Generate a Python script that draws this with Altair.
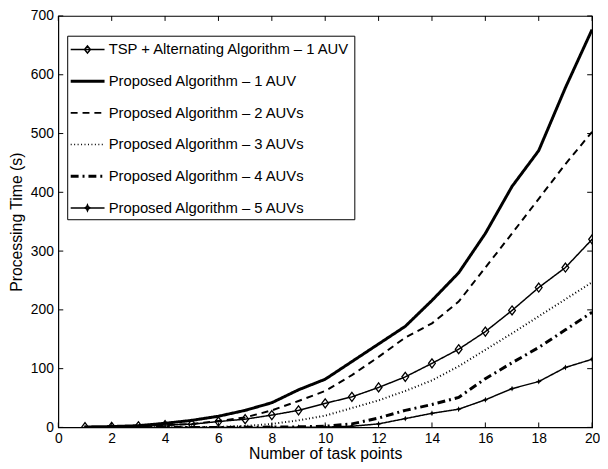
import altair as alt
import pandas as pd

# ---------------- data ----------------
x_points = list(range(1, 21))

series_names = [
    "TSP + Alternating Algorithm – 1 AUV",
    "Proposed Algorithm – 1 AUV",
    "Proposed Algorithm – 2 AUVs",
    "Proposed Algorithm – 3 AUVs",
    "Proposed Algorithm – 4 AUVs",
    "Proposed Algorithm – 5 AUVs",
]

tsp_1auv = [0.5, 1, 2, 4, 5.5, 10, 14, 21, 29, 41, 52, 68, 86, 109, 133, 163, 199, 238, 272, 320]
prop_1auv = [0.8, 1.5, 3, 7, 12, 19, 29, 42, 64, 82, 112, 142, 172, 216, 263, 330, 410, 471, 578, 677]
prop_2auv = [0.4, 0.8, 1.5, 4, 6, 11, 17, 29, 45, 62, 89, 120, 153, 177, 214, 272, 330, 389, 448, 503]
prop_3auv = [0, 0, 0, 0.3, 0.6, 1, 2.5, 6, 12, 20, 33, 46, 62, 80, 104, 132, 160, 189, 218, 247]
prop_4auv = [0, 0, 0, 0, 0, 0, 0.3, 0.6, 1, 2, 6, 16, 29, 39, 51, 83, 110, 136, 166, 196]
prop_5auv = [0, 0, 0, 0, 0, 0, 0, 0, 0.3, 0.6, 2, 6, 15, 24, 31, 47, 66, 78, 102, 116]

all_series = [tsp_1auv, prop_1auv, prop_2auv, prop_3auv, prop_4auv, prop_5auv]

x_ticks = list(range(0, 21, 2))
y_ticks = list(range(0, 701, 100))

# ---------------- styles ----------------
line_widths = [1.5, 3, 2, 2, 3, 1.5]
dashes = [[1, 0], [1, 0], [7, 5], [1, 2.5], [8, 4, 2, 4], [1, 0]]

X_MIN, X_MAX = 0, 20
Y_MIN, Y_MAX = 0, 700
W, H = 541, 417
FONT = "Liberation Sans"
TICK = 5  # px
tx = TICK / W * (X_MAX - X_MIN)   # tick length in x data units
ty = TICK / H * (Y_MAX - Y_MIN)   # tick length in y data units

rows = []
for name, vals, lw in zip(series_names, all_series, line_widths):
    for xv, yv in zip(x_points, vals):
        rows.append({"x": xv, "y": yv, "series": name, "lw": lw})
df = pd.DataFrame(rows)
legend_df = pd.DataFrame({"series": series_names})

xt_rows = []
for v in x_ticks:
    xt_rows.append({"v": v, "a": Y_MIN, "b": Y_MIN + ty})
    xt_rows.append({"v": v, "a": Y_MAX, "b": Y_MAX - ty})
xt_df = pd.DataFrame(xt_rows)
yt_rows = []
for v in y_ticks:
    yt_rows.append({"v": v, "a": X_MIN, "b": X_MIN + tx})
    yt_rows.append({"v": v, "a": X_MAX, "b": X_MAX - tx})
yt_df = pd.DataFrame(yt_rows)

xscale = alt.Scale(domain=[X_MIN, X_MAX], nice=False, zero=False)
yscale = alt.Scale(domain=[Y_MIN, Y_MAX], nice=False, zero=False)
dash_scale = alt.Scale(range=dashes)

# ---------- legend symbol paths (unit = sqrt(size)/2 px) ----------
SYM_SIZE = 400
K = (SYM_SIZE ** 0.5) / 2.0  # px per path unit
LA, LB, LC = -1.045, 2.385, 0.655


def seg(a, b, off=0.0):
    return f"M{a:.3f},{off:.3f}H{b:.3f}"


def dashed(pattern_px, off=0.0):
    out, pos, i = [], LA, 0
    while pos < LB - 1e-6:
        end = min(pos + pattern_px[i % len(pattern_px)] / K, LB)
        if i % 2 == 0:
            out.append(seg(pos, end, off))
        pos, i = end, i + 1
    return "".join(out)


def thick(path_fn, half_px):
    d = half_px / K
    return path_fn(-d) + path_fn(d)


dw, dh = 3.0 / K, 3.6 / K
diamond_leg = f"M{LC},{-dh:.3f}L{LC + dw:.3f},0L{LC},{dh:.3f}L{LC - dw:.3f},0Z"
so, si = 3.0 / K, 0.9 / K
star_leg = (f"M{LC},{-so:.3f}L{LC + si:.3f},{-si:.3f}L{LC + so:.3f},0L{LC + si:.3f},{si:.3f}"
            f"L{LC},{so:.3f}L{LC - si:.3f},{si:.3f}L{LC - so:.3f},0L{LC - si:.3f},{-si:.3f}Z")
legend_shapes = [
    seg(LA, LB) + diamond_leg,
    thick(lambda o: seg(LA, LB, o), 0.75),
    thick(lambda o: dashed([7, 5], o), 0.25),
    dashed([1, 2.5]),
    thick(lambda o: dashed([8, 4, 2, 4], o), 0.75),
    seg(LA, LB) + star_leg,
]
shape_scale = alt.Scale(domain=series_names, range=legend_shapes)

diamond_plot = "M0,-1.2L0.9,0L0,1.2L-0.9,0Z"
star_plot = "M0,-1L0.3,-0.3L1,0L0.3,0.3L0,1L-0.3,0.3L-1,0L-0.3,-0.3Z"

label_axis_x = alt.Axis(values=x_ticks, title="Number of task points", ticks=False, domain=False,
                        grid=False, labelPadding=4, labelFlush=False, titlePadding=1,
                        labelFontSize=14, titleFontSize=16, labelFont=FONT, titleFont=FONT,
                        titleFontWeight="normal", labelColor="black", titleColor="black",
                        orient="bottom")
label_axis_y = alt.Axis(values=y_ticks, title="Processing Time (s)", ticks=False, domain=False,
                        grid=False, labelPadding=5, labelFlush=False, titlePadding=6,
                        labelFontSize=14, titleFontSize=16, labelFont=FONT, titleFont=FONT,
                        titleFontWeight="normal", labelColor="black", titleColor="black",
                        orient="left")

lines = alt.Chart(df).mark_line(color="black", clip=True).encode(
    x=alt.X("x:Q", scale=xscale, axis=label_axis_x),
    y=alt.Y("y:Q", scale=yscale, axis=label_axis_y),
    strokeDash=alt.StrokeDash("series:N", scale=dash_scale, sort=series_names, legend=None),
    strokeWidth=alt.StrokeWidth("lw:Q", scale=None, legend=None),
)

tsp_pts = alt.Chart(df).transform_filter(
    alt.datum.series == series_names[0]
).mark_point(shape=diamond_plot, size=58, filled=False, color="black",
             strokeWidth=1.3, opacity=1, clip=True).encode(
    x=alt.X("x:Q", scale=xscale, axis=None),
    y=alt.Y("y:Q", scale=yscale, axis=None),
)

auv5_pts = alt.Chart(df).transform_filter(
    alt.datum.series == series_names[5]
).mark_point(shape=star_plot, size=36, filled=True, color="black",
             opacity=1, clip=True).encode(
    x=alt.X("x:Q", scale=xscale, axis=None),
    y=alt.Y("y:Q", scale=yscale, axis=None),
)

# inward ticks on all four edges, placed through the scales
ticks_x = alt.Chart(xt_df).mark_rule(color="black", strokeWidth=1).encode(
    x=alt.X("v:Q", scale=xscale, axis=None),
    y=alt.Y("a:Q", scale=yscale, axis=None),
    y2="b:Q",
)
ticks_y = alt.Chart(yt_df).mark_rule(color="black", strokeWidth=1).encode(
    y=alt.Y("v:Q", scale=yscale, axis=None),
    x=alt.X("a:Q", scale=xscale, axis=None),
    x2="b:Q",
)

legend_def = alt.Legend(
    title=None, orient="none", legendX=9, legendY=20,
    labelFont=FONT, labelFontSize=15, labelColor="black", labelLimit=400,
    labelOffset=17, rowPadding=13.1, padding=3, symbolSize=SYM_SIZE,
    symbolStrokeWidth=1.5, symbolStrokeColor="black", symbolFillColor="transparent",
    strokeColor="black", fillColor="white", cornerRadius=0,
)

legend_layer = alt.Chart(legend_df).mark_point(
    filled=False, color="black", opacity=1, size=SYM_SIZE, strokeWidth=1.5, clip=True
).encode(
    x=alt.value(-200),
    y=alt.value(-200),
    shape=alt.Shape("series:N", scale=shape_scale, legend=legend_def),
)

chart = alt.layer(
    lines, tsp_pts, auv5_pts, ticks_x, ticks_y, legend_layer
).resolve_axis(
    x="independent", y="independent"
).properties(
    width=W, height=H, padding={"left": 0, "top": -2, "right": 0, "bottom": 0},
    background="white",
).configure_view(stroke="black", strokeWidth=1.2)

chart.save("out.html", embed_options={"renderer": "svg", "actions": False})
